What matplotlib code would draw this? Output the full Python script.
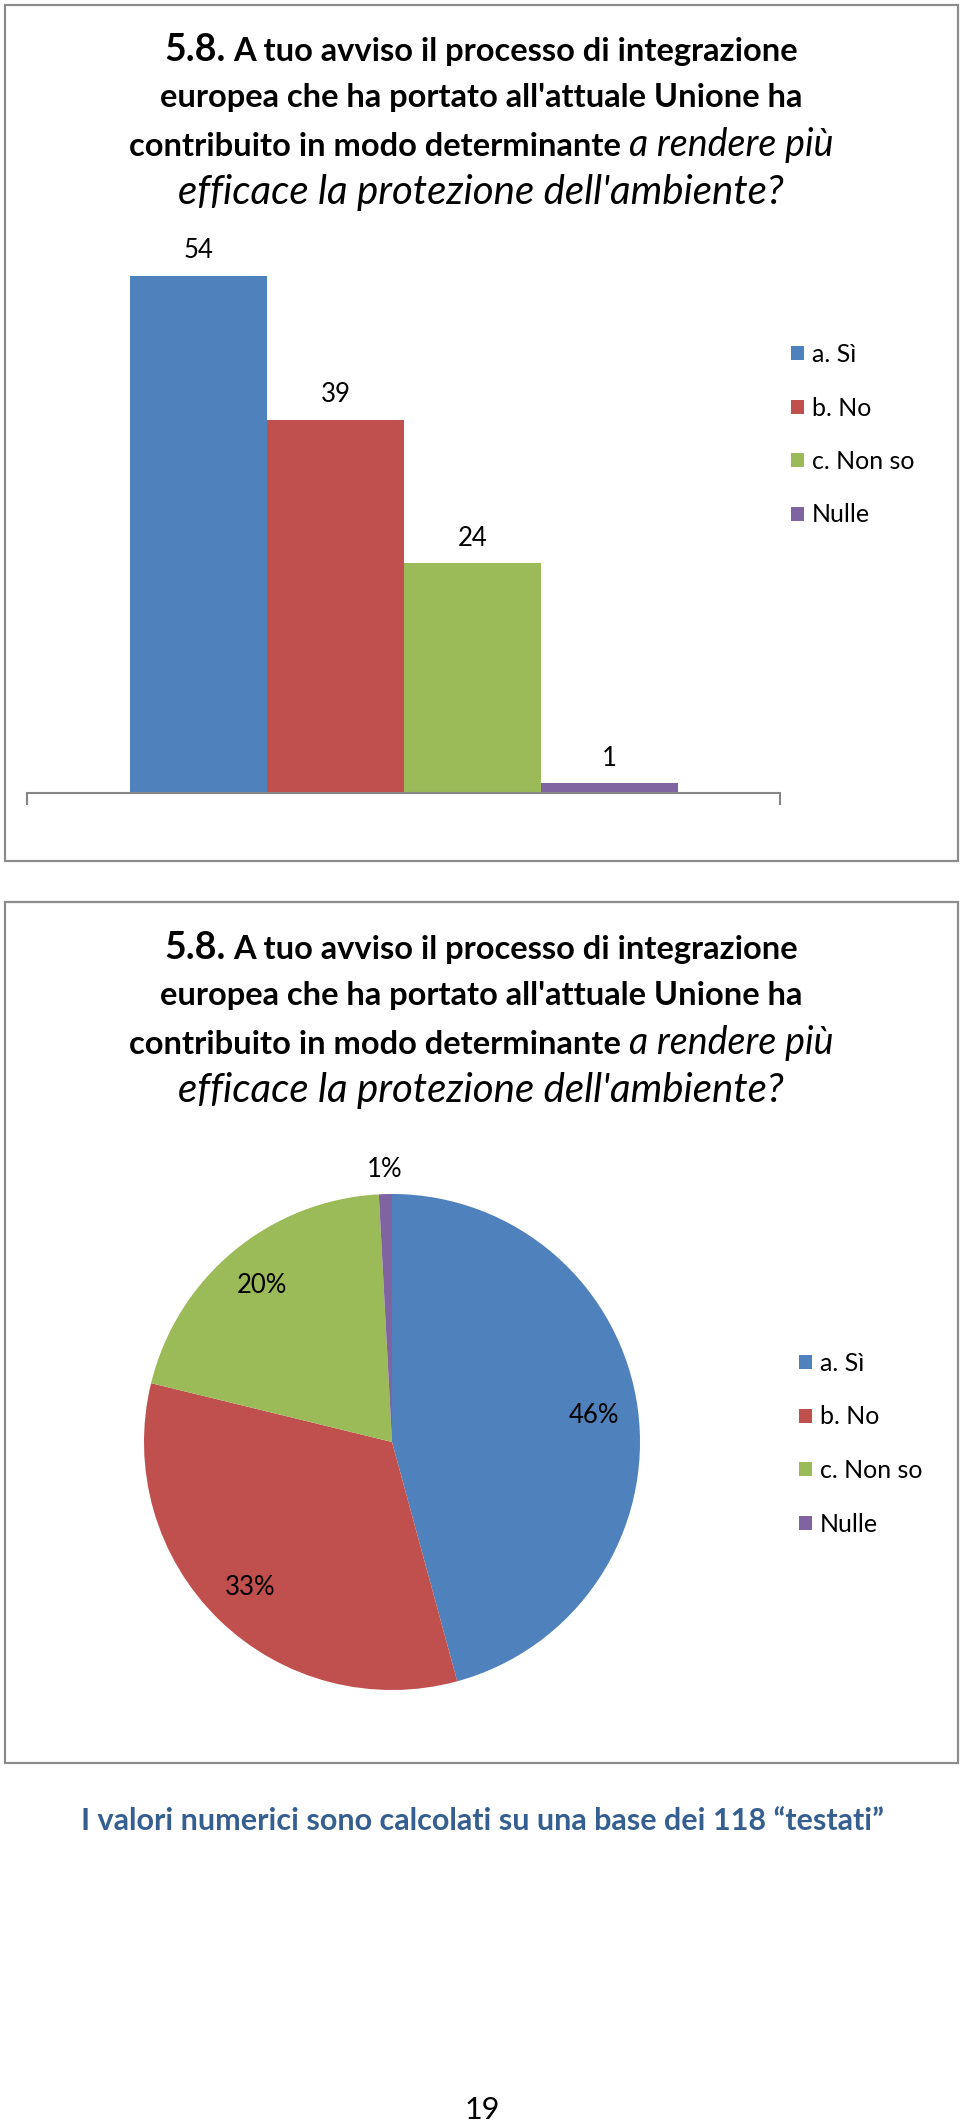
import numpy as np
import matplotlib
matplotlib.use("Agg")
import matplotlib.pyplot as plt
import matplotlib.patches as mpatches
import matplotlib.transforms as mtransforms

plt.rcParams['font.family'] = ['Lato', 'DejaVu Sans']

# --- data -------------------------------------------------------------
categories = ["a. Sì", "b. No", "c. Non so", "Nulle"]
counts = [54, 39, 24, 1]
colors = ["#4F81BD", "#C0504D", "#9BBB59", "#8064A2"]

title_lines = [
    [("5.8.", 27, "bold", "normal"),
     ("A tuo avviso il processo di integrazione", 23.5, "bold", "normal")],
    [("europea che ha portato all'attuale Unione ha", 23.5, "bold", "normal")],
    [("contribuito in modo determinante", 23.5, "bold", "normal"),
     ("a rendere più", 27, "normal", "italic")],
    [("efficace la protezione dell'ambiente?", 29, "normal", "italic")],
]
footer = "I valori numerici sono calcolati su una base dei 118 \u201ctestati\u201d"
page_no = "19"

W, H = 960, 2128
fig = plt.figure(figsize=(W / 100, H / 100), dpi=100)
fig.patch.set_facecolor("white")
px = mtransforms.IdentityTransform()


def fx(x):
    return x / W


def fy(y):
    return 1 - y / H


def draw_title(top, xc=481):
    baselines = [61, 107, 156, 204]
    renderer = fig.canvas.get_renderer()
    for segs, yb in zip(title_lines, baselines):
        texts, widths = [], []
        for s, size, weight, style in segs:
            t = fig.text(0, 0, s, fontsize=size, fontweight=weight,
                         fontstyle=style, transform=px,
                         ha="left", va="baseline")
            texts.append(t)
            widths.append(t.get_window_extent(renderer).width)
        gap = 0.26 * 22 * 100 / 72
        total = sum(widths) + gap * (len(segs) - 1)
        x = xc - total / 2
        for t, w in zip(texts, widths):
            t.set_position((x, H - (top + yb)))
            x += w + gap


def box(y0, y1):
    fig.add_artist(mpatches.Rectangle((fx(5), fy(y1)), fx(953), (y1 - y0) / H,
                                      transform=fig.transFigure, fill=False,
                                      ec="#8c8c8c", lw=1.6))


leg_kw = dict(loc="upper left", frameon=False, fontsize=18,
              handlelength=0.5, handleheight=0.5, handletextpad=0.35,
              labelspacing=1.22, borderaxespad=0)

# --- top panel: bars --------------------------------------------------
box(5, 861)
draw_title(0)

unit = 517 / 54
ax1 = fig.add_axes([fx(27), fy(793), fx(753), (793 - 200) / H])
x = np.arange(len(counts))
bars = ax1.bar(x, counts, width=1, align="edge", color=colors, lw=0)
ax1.set_xlim(-103 / 137, 650 / 137)
ax1.set_ylim(0, 593 / unit)
for s in ["top", "left", "right"]:
    ax1.spines[s].set_visible(False)
ax1.spines["bottom"].set_color("#868686")
ax1.spines["bottom"].set_linewidth(1.5)
ax1.set_xticks(ax1.get_xlim(), ["", ""])
ax1.tick_params(axis="x", length=8.5, width=1.5, color="#868686")
ax1.set_yticks([])
ax1.patch.set_alpha(0)
ax1.bar_label(bars, padding=9, fontsize=18.5)

fig.legend(bars, categories, bbox_to_anchor=(fx(781), fy(333)), **leg_kw)

# --- bottom panel: pie ------------------------------------------------
box(902, 1763)
draw_title(898)

cx, cy, r = 392, 1442, 248
ax2 = fig.add_axes([fx(cx - r), fy(cy + r), fx(2 * r), 2 * r / H])
wedges, _, autotexts = ax2.pie(counts, colors=colors, startangle=90,
                               counterclock=False, autopct="%1.0f%%",
                               pctdistance=0.82,
                               wedgeprops=dict(linewidth=0),
                               textprops=dict(fontsize=18.5))
# the tiny slice gets its label outside the pie
ang = np.deg2rad((wedges[-1].theta1 + wedges[-1].theta2) / 2)
autotexts[-1].set_position((1.1 * np.cos(ang), 1.1 * np.sin(ang)))
ax2.set_xlim(-1, 1)
ax2.set_ylim(-1, 1)

fig.legend(wedges, categories, bbox_to_anchor=(fx(789), fy(1342)), **leg_kw)

# --- footer -----------------------------------------------------------
fig.text(fx(482), fy(1821), footer, ha="center", va="center",
         fontsize=22, fontweight="bold", color="#365F91")
fig.text(fx(482), fy(2110), page_no, ha="center", va="center", fontsize=22)

fig.savefig("out.png", dpi=100)
